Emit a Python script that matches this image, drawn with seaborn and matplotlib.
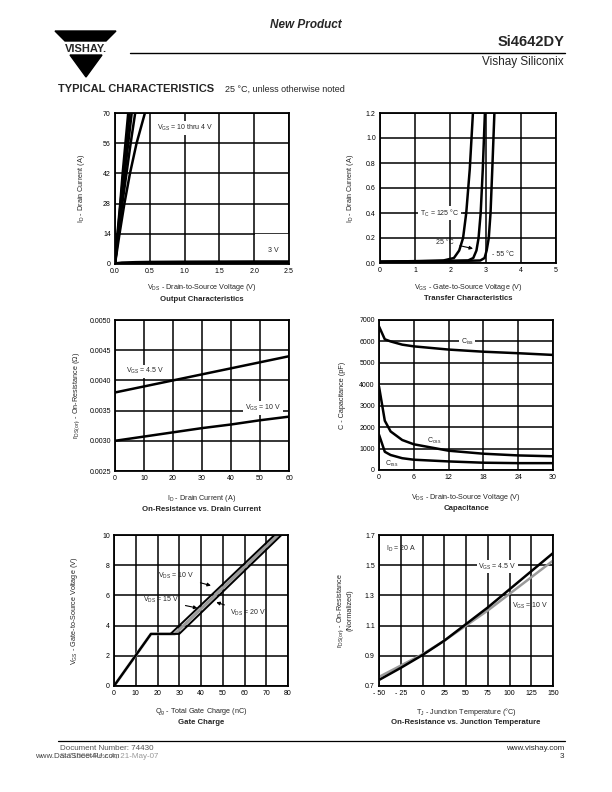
import numpy as np
import pandas as pd
import matplotlib
matplotlib.use("Agg")
import matplotlib.pyplot as plt
import matplotlib.patches as mpatches
import seaborn as sns

# -------------------------
# Data
# -------------------------

# Output characteristics
out_id = [0, 14, 28, 42, 56, 70]
out_vds_10 = [0, 0.035, 0.075, 0.11, 0.15, 0.19]
out_vds_8 = [0, 0.04, 0.08, 0.12, 0.165, 0.21]
out_vds_6 = [0, 0.045, 0.09, 0.14, 0.19, 0.24]
out_vds_5 = [0, 0.05, 0.105, 0.165, 0.225, 0.29]
out_vds_4 = [0, 0.065, 0.135, 0.215, 0.31, 0.43]
out3_vds = [0, 0.1, 0.3, 0.5, 1.0, 1.5, 2.0, 2.5]
out3_id = [0, 0.4, 0.6, 0.7, 0.8, 0.85, 0.9, 0.9]

# Transfer characteristics
tr_id = [0.01, 0.015, 0.02, 0.04, 0.1, 0.2, 0.4, 0.75, 1.2]
tr_vgs_125 = [0, 1.0, 1.8, 2.1, 2.25, 2.36, 2.45, 2.55, 2.64]
tr_vgs_25 = [0, 1.5, 2.5, 2.65, 2.74, 2.8, 2.86, 2.92, 2.98]
tr_vgs_m55 = [0, 2.0, 2.85, 2.97, 3.03, 3.09, 3.14, 3.19, 3.25]

# On-resistance vs drain current
rd_id = [0, 10, 20, 30, 40, 50, 60]
rd_45 = [0.0038, 0.0039, 0.0040, 0.0041, 0.0042, 0.0043, 0.0044]
rd_10 = [0.0030, 0.00307, 0.00314, 0.00321, 0.00327, 0.00334, 0.0034]

# Capacitance
cap_vds = [0, 1, 2, 4, 6, 12, 18, 24, 30]
c_iss = [6700, 6100, 6000, 5850, 5770, 5620, 5520, 5450, 5370]
c_oss = [3900, 2300, 1800, 1400, 1200, 900, 760, 680, 640]
c_rss = [1650, 850, 700, 550, 480, 400, 340, 320, 320]

# Gate charge
qg_10 = [0, 17, 26, 73.8]
qg_15 = [0, 17, 28, 75.4]
qg_20 = [0, 17, 30, 77]
vgs_q = [0, 3.45, 3.45, 10]

# On-resistance vs junction temperature
tj = [-50, -25, 0, 25, 50, 75, 100, 125, 150]
rn_45 = [0.74, 0.82, 0.905, 1.0, 1.11, 1.22, 1.34, 1.46, 1.58]
rn_10 = [0.76, 0.835, 0.91, 1.0, 1.10, 1.20, 1.31, 1.42, 1.53]

# -------------------------
# Style
# -------------------------

sns.set_style("white")
plt.rcParams["font.family"] = ["Liberation Sans", "DejaVu Sans"]
plt.rcParams["mathtext.fontset"] = "custom"
plt.rcParams["mathtext.rm"] = "Liberation Sans"
plt.rcParams["mathtext.it"] = "Liberation Sans"
plt.rcParams["mathtext.default"] = "regular"

W, H = 612, 792
fig = plt.figure(figsize=(6.12, 7.92), dpi=100)

TICK = 5
LAB = 5.2
TTL = 5.6


def px_axes(left, top, right, bottom):
    return fig.add_axes([left / W, 1 - bottom / H, (right - left) / W, (bottom - top) / H])


def style(ax, xlim, ylim, xt, yt, xl, yl, title, ylx, xly, tty, xfmt=None, yfmt=None):
    ax.set_xlim(xlim)
    ax.set_ylim(ylim)
    ax.set_xticks(xt)
    ax.set_yticks(yt)
    if xfmt:
        ax.set_xticklabels([xfmt(v) for v in xt])
    if yfmt:
        ax.set_yticklabels([yfmt(v) for v in yt])
    ax.grid(True, color="black", lw=1.1)
    ax.set_axisbelow(True)
    for s in ax.spines.values():
        s.set_color("black")
        s.set_linewidth(1.3)
    ax.tick_params(length=0, labelsize=TICK, pad=3, colors="black")
    ax.set_xlabel(xl, fontsize=LAB, va="center")
    ax.set_ylabel(yl, fontsize=LAB, va="center", ha="center")
    ax.yaxis.set_label_coords(ylx, 0.5)
    ax.xaxis.set_label_coords(0.5, xly)
    ax.text(0.5, tty, title, transform=ax.transAxes, ha="center", va="center",
            fontsize=TTL, fontweight="bold")


box = dict(facecolor="white", edgecolor="none", pad=1.2)

# -------------------------
# Output Characteristics
# -------------------------

ax1 = px_axes(115, 113, 289, 264)
for v in [out_vds_10, out_vds_8, out_vds_6, out_vds_5, out_vds_4]:
    sns.lineplot(x=v, y=out_id, ax=ax1, color="black", lw=1.8, sort=False)
ax1.add_patch(mpatches.Rectangle((2.005, 0.6), 0.5, 13.2, facecolor="white",
                                 edgecolor="none", zorder=1))
sns.lineplot(x=out3_vds, y=out3_id, ax=ax1, color="black", lw=2.6)
ax1.text(0.6, 63, "V$_{GS}$ = 10 thru 4 V", fontsize=TICK, va="center", bbox=box)
ax1.text(2.2, 6.3, "3 V", fontsize=TICK, va="center")
style(ax1, (0, 2.5), (0, 70), np.arange(0, 2.51, 0.5), [0, 14, 28, 42, 56, 70],
      "V$_{DS}$ - Drain-to-Source Voltage (V)", "I$_D$ - Drain Current (A)",
      "Output Characteristics", -0.195, -0.157, -0.232,
      xfmt=lambda v: f"{v:.1f}")

# -------------------------
# Transfer Characteristics
# -------------------------

ax2 = px_axes(380, 113, 556, 263)
for v in [tr_vgs_125, tr_vgs_25, tr_vgs_m55]:
    sns.lineplot(x=v, y=tr_id, ax=ax2, color="black", lw=1.8, sort=False)
ax2.annotate("T$_C$ = 125 °C", xy=(2.45, 0.4), xytext=(1.13, 0.4), fontsize=TICK,
             va="center", bbox=box,
             arrowprops=dict(arrowstyle="-", color="black", lw=0.8))
ax2.annotate("25 °C", xy=(2.72, 0.11), xytext=(1.6, 0.165), fontsize=TICK,
             va="center",
             arrowprops=dict(arrowstyle="-|>", color="black", lw=0.8,
                             mutation_scale=5))
ax2.text(3.18, 0.066, "- 55 °C", fontsize=TICK, va="center", bbox=box)
style(ax2, (0, 5), (0, 1.2), range(0, 6), np.arange(0, 1.21, 0.2),
      "V$_{GS}$ - Gate-to-Source Voltage (V)", "I$_D$ - Drain Current (A)",
      "Transfer Characteristics", -0.17, -0.165, -0.24,
      yfmt=lambda v: f"{v:.1f}")

# -------------------------
# On-Resistance vs. Drain Current
# -------------------------

ax3 = px_axes(115, 320, 289, 471)
sns.lineplot(x=rd_id, y=rd_45, ax=ax3, color="black", lw=1.8)
sns.lineplot(x=rd_id, y=rd_10, ax=ax3, color="black", lw=1.8)
ax3.text(3.8, 0.00415, "V$_{GS}$ = 4.5 V", fontsize=TICK, va="center", bbox=box)
ax3.text(44.7, 0.00354, "V$_{GS}$ = 10 V", fontsize=TICK, va="center", bbox=box)
style(ax3, (0, 60), (0.0025, 0.0050), range(0, 61, 10),
      np.arange(0.0025, 0.00501, 0.0005),
      "I$_D$ - Drain Current (A)", "r$_{DS(on)}$ - On-Resistance (Ω)",
      "On-Resistance vs. Drain Current", -0.22, -0.185, -0.258,
      yfmt=lambda v: f"{v:.4f}")

# -------------------------
# Capacitance
# -------------------------

ax4 = px_axes(379, 320, 553, 470)
for c in [c_iss, c_oss, c_rss]:
    sns.lineplot(x=cap_vds, y=c, ax=ax4, color="black", lw=1.8)
ax4.text(14.1, 6000, "C$_{iss}$", fontsize=TICK, va="center", bbox=box)
ax4.text(8.2, 1360, "C$_{oss}$", fontsize=TICK, va="center")
ax4.text(1.0, 280, "C$_{rss}$", fontsize=TICK, va="center")
style(ax4, (0, 30), (0, 7000), range(0, 31, 6), range(0, 7001, 1000),
      "V$_{DS}$ - Drain-to-Source Voltage (V)", "C - Capacitance (pF)",
      "Capacitance", -0.207, -0.185, -0.258)

# -------------------------
# Gate Charge
# -------------------------

ax5 = px_axes(114, 535, 288, 686)
sns.lineplot(x=qg_15, y=vgs_q, ax=ax5, color="#9a9a9a", lw=2.2, sort=False)
sns.lineplot(x=qg_20, y=vgs_q, ax=ax5, color="black", lw=1.4, sort=False)
sns.lineplot(x=qg_10, y=vgs_q, ax=ax5, color="black", lw=1.4, sort=False)
arr = dict(arrowstyle="-|>", color="black", lw=0.8, mutation_scale=5)
ax5.annotate("V$_{DS}$ = 10 V", xy=(45.8, 6.6), xytext=(20.4, 7.27), fontsize=TICK,
             va="center", arrowprops=arr)
ax5.annotate("V$_{DS}$ = 15 V", xy=(39.6, 5.12), xytext=(13.5, 5.67), fontsize=TICK,
             va="center", arrowprops=arr)
ax5.annotate("V$_{DS}$ = 20 V", xy=(45.8, 5.6), xytext=(53.5, 4.86), fontsize=TICK,
             va="center", arrowprops=arr)
style(ax5, (0, 80), (0, 10), range(0, 81, 10), range(0, 11, 2),
      "Q$_g$ - Total Gate Charge (nC)", "V$_{GS}$ - Gate-to-Source Voltage (V)",
      "Gate Charge", -0.225, -0.172, -0.24)

# -------------------------
# On-Resistance vs. Junction Temperature
# -------------------------

ax6 = px_axes(379, 535, 553, 686)
sns.lineplot(x=tj, y=rn_10, ax=ax6, color="#9a9a9a", lw=1.8)
sns.lineplot(x=tj, y=rn_45, ax=ax6, color="black", lw=1.8)
ax6.text(-41.5, 1.608, "I$_D$ = 20 A", fontsize=TICK, va="center")
ax6.text(64, 1.49, "V$_{GS}$ = 4.5 V", fontsize=TICK, va="center", bbox=box)
ax6.text(103, 1.23, "V$_{GS}$ = 10 V", fontsize=TICK, va="center")
style(ax6, (-50, 150), (0.7, 1.7), range(-50, 151, 25), np.arange(0.7, 1.71, 0.2),
      "T$_J$ - Junction Temperature (°C)",
      "r$_{DS(on)}$ - On-Resistance\n(Normalized)",
      "On-Resistance vs. Junction Temperature", -0.2, -0.172, -0.24,
      xfmt=lambda v: f"- {abs(v)}" if v < 0 else f"{v}",
      yfmt=lambda v: f"{v:.1f}")

# -------------------------
# Page header and footer
# -------------------------


def fx(x):
    return x / W


def fy(y):
    return 1 - y / H


fig.text(fx(306), fy(25), "New Product", ha="center", va="center", fontsize=8.5,
         fontweight="bold", fontstyle="italic")
fig.patches.append(mpatches.Polygon(
    [(fx(55), fy(31)), (fx(116), fy(31)), (fx(106), fy(41)), (fx(65), fy(41))],
    closed=True, transform=fig.transFigure, color="black"))
fig.patches.append(mpatches.Polygon(
    [(fx(70), fy(55)), (fx(102), fy(55)), (fx(86), fy(77))],
    closed=True, transform=fig.transFigure, color="black"))
fig.text(fx(86), fy(48.5), "VISHAY.", ha="center", va="center", fontsize=8,
         fontweight="bold")
fig.add_artist(plt.Line2D([fx(130), fx(565)], [fy(53), fy(53)],
                          transform=fig.transFigure, color="black", lw=1.0))
fig.text(fx(564), fy(42), "Si4642DY", ha="right", va="center", fontsize=10.5,
         fontweight="bold")
fig.text(fx(564), fy(62), "Vishay Siliconix", ha="right", va="center", fontsize=8.5)
fig.text(fx(58), fy(89), "TYPICAL CHARACTERISTICS", ha="left", va="center",
         fontsize=8, fontweight="bold")
fig.text(fx(225), fy(89), "25 °C, unless otherwise noted", ha="left", va="center",
         fontsize=6.5)

fig.add_artist(plt.Line2D([fx(58), fx(565)], [fy(741), fy(741)],
                          transform=fig.transFigure, color="black", lw=0.9))
fig.text(fx(60), fy(748), "Document Number: 74430", ha="left", va="center",
         fontsize=5.8, color="#555555")
fig.text(fx(60), fy(757), "S-71009-Rev. A, 21-May-07", ha="left", va="center",
         fontsize=5.8, color="#999999")
fig.text(fx(35), fy(756), "www.DataSheet4U.com", ha="left", va="center",
         fontsize=5.8, color="#444444")
fig.text(fx(564), fy(748), "www.vishay.com", ha="right", va="center", fontsize=5.8)
fig.text(fx(564), fy(757), "3", ha="right", va="center", fontsize=5.8)

fig.savefig("out.png", dpi=100, facecolor="white")
